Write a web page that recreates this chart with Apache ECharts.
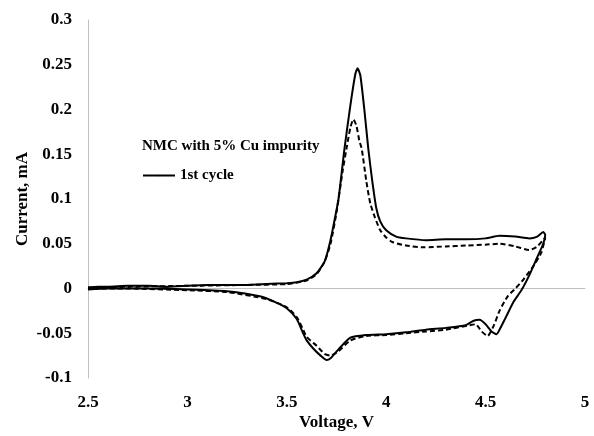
<!DOCTYPE html>
<html>
<head>
<meta charset="utf-8">
<script src="https://cdn.jsdelivr.net/npm/echarts@6/dist/echarts.min.js"></script>
<style>
html, body { margin: 0; padding: 0; background: #fff; }
#main { width: 594px; height: 436px; }
</style>
</head>
<body>
<div id="main"></div>
<script>
// 1st cycle: anodic sweep then cathodic sweep [voltage, current]
var cycle1 = [
    [2.5, 0.001], [2.55, 0.002], [2.6, 0.002], [2.7, 0.003], [2.8, 0.003], [2.9, 0.002],
    [3.0, 0.003], [3.1, 0.004], [3.2, 0.004], [3.3, 0.004], [3.4, 0.005], [3.5, 0.006],
    [3.55, 0.007], [3.6, 0.010], [3.65, 0.017], [3.69, 0.030], [3.71, 0.045], [3.73, 0.065],
    [3.76, 0.100], [3.79, 0.156], [3.82, 0.205], [3.845, 0.240], [3.856, 0.246], [3.87, 0.238],
    [3.89, 0.200], [3.91, 0.156], [3.93, 0.120], [3.95, 0.090], [3.97, 0.075], [4.0, 0.065],
    [4.05, 0.058], [4.1, 0.056], [4.2, 0.054], [4.3, 0.055], [4.4, 0.055], [4.5, 0.056],
    [4.57, 0.059], [4.65, 0.058], [4.72, 0.056], [4.76, 0.058], [4.79, 0.063], [4.8, 0.060],
    [4.79, 0.050], [4.76, 0.035], [4.72, 0.015], [4.68, -0.002], [4.64, -0.015], [4.6, -0.033],
    [4.57, -0.046], [4.555, -0.051], [4.53, -0.048], [4.5, -0.040], [4.47, -0.035], [4.44, -0.036],
    [4.4, -0.041], [4.3, -0.044], [4.2, -0.046], [4.1, -0.049], [4.0, -0.051], [3.9, -0.052],
    [3.82, -0.055], [3.76, -0.068], [3.72, -0.078], [3.70, -0.080], [3.67, -0.075], [3.633, -0.067],
    [3.6, -0.058], [3.58, -0.049], [3.55, -0.034], [3.5, -0.022], [3.45, -0.016], [3.37, -0.009],
    [3.2, -0.003], [3.0, -0.001], [2.8, 0.0], [2.6, 0.0], [2.5, -0.001]
];

// second cycle (dashed, not in legend)
var cycle2 = [
    [2.5, 0.001], [2.7, 0.002], [3.0, 0.003], [3.3, 0.004], [3.5, 0.005], [3.6, 0.009],
    [3.65, 0.016], [3.69, 0.030], [3.72, 0.050], [3.75, 0.085], [3.78, 0.130], [3.80, 0.156],
    [3.82, 0.180], [3.835, 0.189], [3.85, 0.182], [3.865, 0.165], [3.877, 0.156], [3.9, 0.120],
    [3.92, 0.095], [3.944, 0.079], [3.97, 0.065], [4.0, 0.057], [4.03, 0.052], [4.1, 0.048],
    [4.19, 0.046], [4.3, 0.047], [4.4, 0.048], [4.5, 0.049], [4.57, 0.050], [4.65, 0.047],
    [4.72, 0.043], [4.76, 0.047], [4.8, 0.057],
    [4.78, 0.040], [4.74, 0.025], [4.69, 0.010], [4.65, 0.000], [4.61, -0.009], [4.57, -0.025],
    [4.54, -0.042], [4.51, -0.053], [4.48, -0.048], [4.45, -0.040], [4.42, -0.041], [4.3, -0.046],
    [4.2, -0.048], [4.1, -0.050], [4.0, -0.052], [3.9, -0.053], [3.82, -0.058], [3.76, -0.070],
    [3.72, -0.075], [3.69, -0.073], [3.65, -0.064], [3.6, -0.054], [3.58, -0.045], [3.55, -0.032],
    [3.5, -0.021], [3.4, -0.012], [3.2, -0.004], [3.0, -0.002], [2.7, 0.0], [2.5, 0.0]
];

var font = 'Liberation Serif';

var myChart = echarts.init(document.getElementById('main'));
option = {
    animation: false,
    title: {
        text: 'NMC with 5% Cu impurity',
        left: 137,
        top: 134,
        textStyle: { fontFamily: font, fontWeight: 'bold', fontSize: 15, color: '#000' }
    },
    legend: {
        data: ['1st cycle'],
        left: 137,
        top: 163,
        itemWidth: 32,
        itemHeight: 2,
        itemGap: 4,
        textStyle: { fontFamily: font, fontWeight: 'bold', fontSize: 15, color: '#000' }
    },
    grid: { left: 88, right: 9, top: 20, bottom: 53, containLabel: false },
    xAxis: {
        type: 'value',
        min: 2.5, max: 5, interval: 0.5,
        name: 'Voltage, V',
        nameLocation: 'middle',
        nameGap: 36,
        nameMoveOverlap: false,
        nameTextStyle: { fontFamily: font, fontWeight: 'bold', fontSize: 17, color: '#000' },
        axisLine: { lineStyle: { color: '#c0c0c0' } },
        axisTick: { show: false },
        splitLine: { show: false },
        axisLabel: { margin: 16, fontFamily: font, fontWeight: 'bold', fontSize: 17, color: '#000' }
    },
    yAxis: {
        type: 'value',
        min: -0.1, max: 0.3, interval: 0.05,
        name: 'Current, mA',
        nameLocation: 'middle',
        nameGap: 57,
        nameMoveOverlap: false,
        nameTextStyle: { fontFamily: font, fontWeight: 'bold', fontSize: 17, color: '#000' },
        axisLine: { show: true, lineStyle: { color: '#c0c0c0' } },
        axisTick: { show: false },
        splitLine: { show: false },
        axisLabel: {
            margin: 16, fontFamily: font, fontWeight: 'bold', fontSize: 17, color: '#000',
            formatter: function (v) { return String(+v.toFixed(2)); }
        }
    },
    series: [
        {
            name: '1st cycle',
            type: 'line',
            data: cycle1,
            smooth: 0.2,
            symbol: 'none',
            lineStyle: { color: '#000', width: 2 },
            itemStyle: { color: '#000' }
        },
        {
            name: '2nd cycle',
            type: 'line',
            data: cycle2,
            smooth: 0.2,
            symbol: 'none',
            lineStyle: { color: '#000', width: 2, type: [5, 3] },
            itemStyle: { color: '#000' }
        }
    ]
};
myChart.setOption(option, true);
</script>
</body>
</html>
